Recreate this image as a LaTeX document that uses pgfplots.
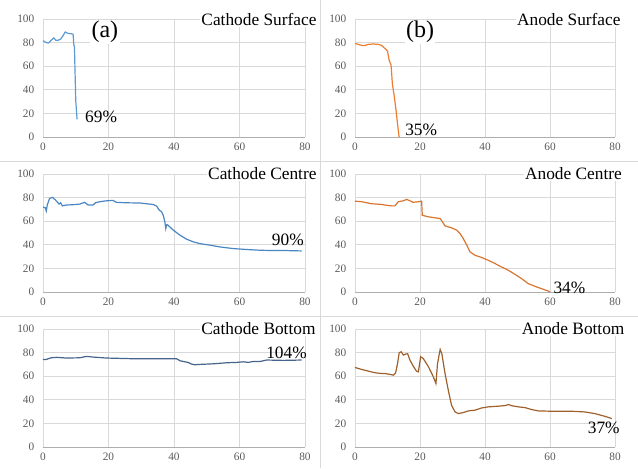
\documentclass[border=0pt]{standalone}
\usepackage{fontspec}
\setmainfont{Liberation Serif}
\usepackage{pgfplots}
\pgfplotsset{compat=1.18}

\definecolor{gridc}{HTML}{D9D9D9}
\definecolor{tickc}{HTML}{595959}
\definecolor{cblue}{HTML}{5B9BD5}
\definecolor{cblue2}{HTML}{4A86C2}
\definecolor{cslate}{HTML}{46648C}
\definecolor{aorange}{HTML}{ED7D31}
\definecolor{aorange2}{HTML}{D8752E}
\definecolor{abrown}{HTML}{A0602C}

\pgfplotsset{
  panel/.style={
    scale only axis,
    anchor=south west,
    xmin=0, xmax=80, ymin=0, ymax=100,
    xtick={0,20,...,80}, ytick={0,20,...,100},
    grid=major,
    grid style={gridc, line width=0.6pt},
    axis x line*=bottom, axis y line*=left,
    x axis line style={gridc!80!black, line width=0.6pt},
    y axis line style={draw=none},
    tick style={draw=none},
    tick label style={font=\fontsize{8.5}{10}\selectfont, text=tickc},
    /pgf/number format/assume math mode=true,
    yticklabel style={xshift=-3pt},
    xticklabel style={yshift=-1pt},
    clip=false,
    every axis plot/.append style={line width=0.9pt, no markers},
  },
}
\tikzset{
  ttl/.style={anchor=east, fill=white, inner sep=1pt, font=\fontsize{13}{15}\selectfont},
  ann/.style={inner sep=0pt, font=\fontsize{13}{15}\selectfont},
}

\begin{document}
\begin{tikzpicture}
\path[use as bounding box] (0,0) rectangle (478.5pt,351pt);
\draw[gridc, line width=0.6pt] (240pt,0) -- (240pt,351pt);
\draw[gridc, line width=0.6pt] (0,230.25pt) -- (478.5pt,230.25pt);
\draw[gridc, line width=0.6pt] (0,114pt) -- (478.5pt,114pt);

% (a) Cathode Surface
\begin{axis}[panel, at={(32.25pt,248.25pt)}, width=196.5pt, height=88.5pt]
\addplot[cblue] coordinates {
(0,81.6) (1,80) (1.7,79.6) (2.5,82) (3.3,84) (3.9,82) (4.6,81.9) (5.4,83)
(6.1,85.8) (6.8,89) (7.6,87.8) (8.7,87.5) (9.2,87) (9.4,78) (9.6,76.5)
(10,31) (10.4,15)
};
\node[ttl] at (axis cs:84,100) {Cathode Surface};
\node[fill=white, inner sep=1pt, font=\fontsize{18}{20}\selectfont] at (axis cs:18.9,89) {(a)};
\node[ann, anchor=west] at (axis cs:12.8,17) {69\%};
\end{axis}

% (b) Anode Surface
\begin{axis}[panel, at={(266.25pt,248.25pt)}, width=195pt, height=88.5pt]
\addplot[aorange] coordinates {
(0,79.3) (1,78.5) (2.1,77.6) (3.1,77.6) (4.1,78.5) (5.6,78.8) (7.2,78.5)
(8.2,77.6) (9.2,75) (10,73) (10.5,65) (11.1,61) (11.5,45) (12.1,34)
(12.5,25.5) (13.1,11) (13.5,1.4) (13.6,0)
};
\node[ttl] at (axis cs:82.2,100) {Anode Surface};
\node[fill=white, inner sep=1pt, font=\fontsize{18}{20}\selectfont] at (axis cs:20,89) {(b)};
\node[ann, anchor=west] at (axis cs:15.4,6) {35\%};
\end{axis}

% Cathode Centre
\begin{axis}[panel, at={(32.25pt,132pt)}, width=196.5pt, height=88.5pt]
\addplot[cblue2] coordinates {
(0,72) (0.7,71.4) (1,68.6) (1.3,73.7) (2,79.3) (2.9,80.2) (3.6,78.5)
(4.3,76.5) (4.9,74.5) (5.4,75.6) (5.9,73) (7.1,73.7) (9.2,74) (11.2,74.5)
(12.7,76) (13.8,73.7) (15.3,73.7) (16,75.6) (17.3,76.5) (19.4,77.3)
(21.4,77.6) (22.4,76) (25.5,75.6) (29.6,75.4) (31.6,74.8) (33.6,74.2)
(34.7,72.8) (35.5,69.4) (36.2,68) (36.7,65.2) (37.2,59.5) (37.5,53.8)
(37.7,56.7) (37.9,57.2) (38.7,55.2) (39.8,52.4) (41.8,48.2) (43.8,44.8)
(45.9,42.5) (47.9,41) (51,39.7) (54,38.2) (58.1,36.8) (62.2,36)
(66.2,35.4) (70.3,35.1) (74.4,35.1) (79,34.8)
};
\node[ttl] at (axis cs:84,100) {Cathode Centre};
\node[ann, anchor=east] at (axis cs:79.7,44) {90\%};
\end{axis}

% Anode Centre
\begin{axis}[panel, at={(266.25pt,132pt)}, width=195pt, height=88.5pt]
\addplot[aorange2] coordinates {
(0,77) (2.1,76.5) (5.1,74.8) (8.2,74.2) (9.2,73.7) (11.3,73) (12.3,73)
(13.3,76.5) (14.9,77.3) (15.9,78.5) (16.9,77.3) (17.9,76) (19.5,76.5)
(20.5,77) (20.7,65) (22.6,63.7) (24.6,62.9) (26.2,62.3) (26.9,59.5)
(27.7,56) (29.7,54.4) (31.3,52.4) (32.3,49.6) (33.3,45.3) (34.4,39.7)
(35.4,34) (36.9,31.2) (39,29.2) (41,26.9) (43.1,24.1) (45.1,21.2)
(47.2,18.4) (49.2,15) (51.3,11.3) (53.3,7.1) (55.4,4.8) (57.4,2.8)
(59.5,0.8) (60,0)
};
\node[ttl] at (axis cs:82.6,100) {Anode Centre};
\node[ann, anchor=west] at (axis cs:61,3.4) {34\%};
\end{axis}

% Cathode Bottom
\begin{axis}[panel, at={(32.25pt,15.75pt)}, width=196.5pt, height=88.5pt]
\addplot[cslate] coordinates {
(0,74.2) (1,74.2) (2.5,75.6) (4.1,76) (7.1,75.4) (11.2,75.6) (13.3,76.8)
(15.3,76.2) (19.4,75.4) (27.5,74.8) (35.7,74.8) (40.8,74.8) (41.8,73.1)
(43.3,72.2) (44.3,71.7) (45.3,70.3) (46.4,69.7) (47.9,70) (52,70.5)
(56.1,71.4) (59.1,71.7) (61.2,72.2) (62.7,71.7) (64.2,72.5) (66.3,72.5)
(68.3,73.7) (73.4,73.4) (79,73.7)
};
\node[ttl] at (axis cs:83.7,100) {Cathode Bottom};
\node[ann, anchor=east] at (axis cs:80.6,80) {104\%};
\end{axis}

% Anode Bottom
\begin{axis}[panel, at={(266.25pt,15.75pt)}, width=195pt, height=88.5pt]
\addplot[abrown] coordinates {
(0,67.4) (2.1,65.7) (4.1,64.3) (6.2,62.9) (8.2,62.3) (9.2,62.3) (10.8,61.5)
(11.8,60.9) (12.5,62.9) (13.1,70.8) (13.6,79.9) (14.2,80.7) (14.9,77.9)
(15.6,78.8) (16.2,79) (16.9,73.7) (17.9,68.6) (18.9,64.3) (19.5,63.7)
(20.2,76.5) (21,75) (22.6,68) (24.1,59.5) (24.9,53.8) (25.4,70.8)
(26.2,82.7) (26.7,79.3) (27.7,62.3) (28.7,48.2) (29.7,35.4) (30.8,29.7)
(31.8,28.3) (33.3,29.2) (34.9,30.6) (36.9,31.2) (39,33.1) (41,34)
(44.1,34.6) (46.2,35.1) (47.2,36) (48.2,35) (50.3,34) (52.3,33.4)
(54.4,31.7) (56.4,30.6) (60.5,30.3) (66.7,30.3) (70.8,29.7) (73.8,28.3)
(76.9,26) (79,24.1)
};
\node[ttl] at (axis cs:83.4,100) {Anode Bottom};
\node[ann, anchor=east] at (axis cs:81.5,16) {37\%};
\end{axis}
\end{tikzpicture}
\end{document}
